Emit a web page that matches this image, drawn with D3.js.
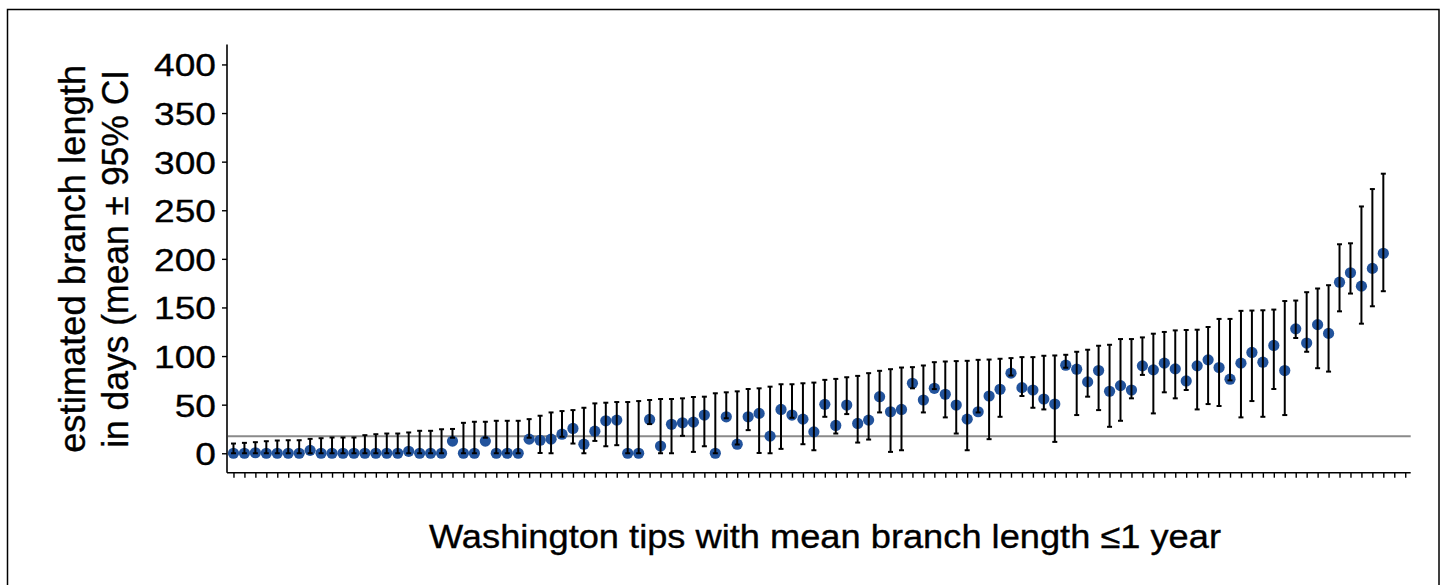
<!DOCTYPE html>
<html>
<head>
<meta charset="utf-8">
<script src="https://cdn.jsdelivr.net/npm/d3@7"></script>
<style>
  body { margin: 0; background: #fff; }
  text { font-family: "Liberation Sans", Arial, sans-serif; fill: #000; stroke: #000; stroke-width: 0.35px; }
</style>
</head>
<body>
<div id="chart"></div>
<script>
// branch length estimates for each Washington tip (days), sorted as in the figure
// the last two tips have no estimate drawn
const means = [
  0, 0, 0.5, 0, 0, 0, 0, 3, 0, 0, 0, 0, 0, 0, 0, 0, 2, 0, 0, 0,
  12.5, 0, 0, 12.5, 0, 0, 0, 14.5, 13.4, 14.5, 19.6, 25.5, 9.3, 22.7, 33.4, 34.1, 0, 0, 34.8, 7.4,
  29.8, 31.3, 32, 39.3, 0, 37.5, 9.3, 37.5, 41, 17.6, 45.1, 39.3, 35.1, 22, 50.3, 28.6, 49.6, 30.7, 34.1, 58.2,
  42.7, 45.1, 72, 54.8, 66.8, 60.7, 49.6, 35.1, 42.7, 58.9, 65.8, 82.4, 67.5, 65.1, 55.8, 50.6, 90.6, 86.5, 73.4, 85.1,
  63.8, 69.6, 65.1, 89.9, 85.8, 92.7, 86.8, 74.4, 89.9, 96.1, 88.2, 76.2, 92.7, 103.7, 93.7, 110.9, 85.1, 128, 113.4, 132.3,
  123.3, 176, 185.7, 171.9, 190.2, 205.7, null, null
];
const lower = [
  0, 0, 0, 0, 0, 0, 0, 0, 0, 0, 0, 0, 0, 0, 0, 0, 0, 0, 0, 0,
  16, 0, 0, 16, 0, 0, 0, 16, 0.3, 0, 17, 10, 0, 12.7, 7.2, 8.3, 0, 0, 30, 0,
  0, 17.9, 1.4, 7.2, 0, 36, 9, 23.8, 0.3, 0, 4.5, 36.5, 9.3, 3.1, 37.5, 20.3, 40.3, 11, 14.1, 42,
  1.4, 3.1, 66.8, 42, 66, 36.9, 20.3, 3.1, 42, 14.5, 37.5, 80, 58.9, 46.8, 45.1, 11.7, 88, 39.3, 58.2, 44.4,
  27.2, 33.4, 56.5, 80.6, 41, 62.7, 56.5, 65.1, 45.1, 50.6, 48.6, 75, 36.9, 53.7, 37.5, 66.1, 39.3, 118.6, 104.4, 87.5,
  84, 146, 164.3, 133.3, 151.2, 166.7, null, null
];
const upper = [
  10, 10.7, 11.4, 12.4, 13.1, 13.4, 13.4, 14.8, 15.5, 16.2, 16.2, 16.2, 18.6, 19.6, 20.3, 20.3, 21.4, 23.1, 23.1, 24.7,
  25, 31.3, 32.4, 32.4, 33.4, 33.4, 33.4, 35.1, 38.6, 42, 43.4, 44.4, 46.8, 51.3, 52, 52.7, 52.7, 53.7, 54.8, 55.8,
  55.8, 56.5, 57.9, 58.2, 61.7, 62.7, 63.7, 66.1, 66.8, 68.5, 71, 71, 72, 72.7, 75.5, 76.5, 78.2, 79.6, 82.4, 84.8,
  86.5, 88.2, 88.6, 90.3, 93.7, 94.4, 94.8, 95.1, 96.1, 96.4, 97.2, 97.9, 98.9, 98.9, 100.3, 100.6, 101.3, 104.4, 106.5, 110.6,
  111.6, 117.5, 117.5, 119.2, 123, 124.8, 126.4, 126.8, 127.1, 129.9, 138.2, 138.2, 146.5, 146.8, 147.1, 147.8, 156.6, 157.1, 165.7, 169.5,
  172.9, 215, 216, 253.9, 271.8, 287.6, null, null
];
const yTicks = [0, 50, 100, 150, 200, 250, 300, 350, 400];
const refLine = 17.6;
const xTitle = "Washington tips with mean branch length \u22641 year";
const yTitle = ["estimated branch length", "in days (mean \u00b1 95% CI"];

const W = 1445, H = 585;
const stretch = 1.16; // glyphs in the figure are wider than Arial

const svg = d3.select("#chart").append("svg")
    .attr("width", W)
    .attr("height", H);

// outer frame
svg.append("rect")
    .attr("x", 7.5).attr("y", 9.5)
    .attr("width", 1431.5).attr("height", 620)
    .attr("fill", "none")
    .attr("stroke", "#000")
    .attr("stroke-width", 1.5);

const tips = d3.range(means.length);
const rows = tips.map(i => ({ i: i, mean: means[i], lo: lower[i], hi: upper[i] }));

const x = d3.scalePoint().domain(tips).range([228, 1410.7]).padding(0.5);
const y = d3.scaleLinear().domain([-20, 420]).range([472.7, 45]);

function widen(sel, len) {
    sel.each(function(d) {
        const n = len ? len(d) : this.getComputedTextLength() * stretch;
        d3.select(this).attr("textLength", n).attr("lengthAdjust", "spacingAndGlyphs");
    });
}

// reference line
svg.append("line")
    .attr("x1", 228).attr("x2", 1410.7)
    .attr("y1", y(refLine)).attr("y2", y(refLine))
    .attr("stroke", "#8a8a8a")
    .attr("stroke-width", 2);

// axes
const yAxis = svg.append("g")
    .attr("transform", "translate(227,0)")
    .call(d3.axisLeft(y).tickValues(yTicks).tickSize(5).tickPadding(6));
yAxis.select(".domain").attr("d", `M0,${y(420) - 0.5}V${472.7}`).attr("stroke-width", 1.6);
yAxis.selectAll(".tick line").attr("stroke-width", 1.4);
yAxis.selectAll(".tick text")
    .attr("font-size", 32)
    .attr("font-family", "Liberation Sans, Arial, sans-serif")
    .attr("dy", "0.36em")
    .call(widen);

const xAxis = svg.append("g")
    .attr("transform", "translate(0,472.7)")
    .call(d3.axisBottom(x).tickSize(5).tickFormat(""));
xAxis.select(".domain").attr("d", "M227,0H1410.7").attr("stroke-width", 1.6);
xAxis.selectAll(".tick line").attr("stroke-width", 1.4);

// points
const valid = rows.filter(d => d.mean != null);
svg.append("g").selectAll("circle")
    .data(valid)
    .enter().append("circle")
    .attr("cx", d => x(d.i))
    .attr("cy", d => y(d.mean))
    .attr("r", 5.6)
    .attr("fill", "#22539c");

// error bars on top of the points
const bars = svg.append("g")
    .attr("stroke", "#000")
    .attr("stroke-width", 2)
    .selectAll("g")
    .data(valid)
    .enter().append("g");
bars.append("line")
    .attr("x1", d => x(d.i)).attr("x2", d => x(d.i))
    .attr("y1", d => y(d.lo)).attr("y2", d => y(d.hi));
bars.append("line")
    .attr("x1", d => x(d.i) - 2.5).attr("x2", d => x(d.i) + 2.5)
    .attr("y1", d => y(d.hi)).attr("y2", d => y(d.hi));
bars.append("line")
    .attr("x1", d => x(d.i) - 2.5).attr("x2", d => x(d.i) + 2.5)
    .attr("y1", d => y(d.lo)).attr("y2", d => y(d.lo));

// titles
svg.append("text")
    .attr("x", 825).attr("y", 548)
    .attr("text-anchor", "middle")
    .attr("font-size", 34)
    .text(xTitle)
    .call(widen, () => 792);

const titleLen = [388, 378];
const yLab = svg.append("g")
    .attr("transform", `translate(0,${(472.7 + 45) / 2}) rotate(-90)`);
yLab.selectAll("text")
    .data(yTitle)
    .enter().append("text")
    .attr("x", 0)
    .attr("y", (d, i) => 85 + i * 43)
    .attr("text-anchor", "middle")
    .attr("font-size", 36)
    .text(d => d)
    .call(widen, d => titleLen[yTitle.indexOf(d)]);
</script>
</body>
</html>
